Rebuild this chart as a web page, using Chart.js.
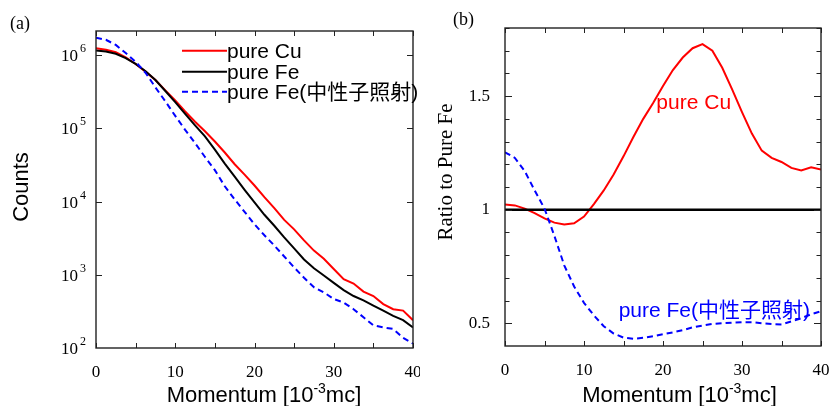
<!DOCTYPE html>
<html>
<head>
<meta charset="utf-8">
<script src="https://cdn.jsdelivr.net/npm/chart.js@4.4.0/dist/chart.umd.min.js"></script>
<style>
  html, body { margin: 0; padding: 0; background: #fff; }
  #wrap { position: relative; width: 833px; height: 406px; }
  .panel { position: absolute; top: 0; height: 406px; }
  #panelA { left: 0; width: 420px; }
  #panelB { left: 420px; width: 413px; }
</style>
</head>
<body>
<div id="wrap">
  <div class="panel" id="panelA"><canvas id="countsChart"></canvas></div>
  <div class="panel" id="panelB"><canvas id="ratioChart"></canvas></div>
</div>
<script>
// momentum grid [10^-3 mc]
const momentum = [0, 1.25, 2.5, 3.75, 5, 6.25, 7.5, 8.75, 10, 11.25, 12.5, 13.75, 15, 16.25, 17.5, 18.75,
  20, 21.25, 22.5, 23.75, 25, 26.25, 27.5, 28.75, 30, 31.25, 32.5, 33.75, 35, 36.25, 37.5, 38.75, 40];

// (a) counts
const cuCounts = [1.245e6, 1.189e6, 1.096e6, 9.33e5, 7.59e5, 5.96e5, 4.57e5, 3.31e5, 2.40e5, 1.70e5, 1.23e5,
  9.12e4, 6.61e4, 4.68e4, 3.24e4, 2.34e4, 1.66e4, 1.15e4, 8130, 5620, 4170, 2950, 2140, 1660, 1200,
  871, 759, 589, 513, 398, 339, 324, 240];
const feCounts = [1.161e6, 1.122e6, 1.047e6, 9.12e5, 7.59e5, 6.03e5, 4.57e5, 3.24e5, 2.29e5, 1.58e5, 1.10e5,
  7.76e4, 5.13e4, 3.31e4, 2.19e4, 1.45e4, 9770, 6610, 4680, 3240, 2290, 1620, 1230, 977, 776,
  617, 513, 447, 380, 324, 275, 240, 191];
const feIrrCounts = [1.738e6, 1.622e6, 1.380e6, 1.072e6, 8.13e5, 5.75e5, 3.63e5, 2.34e5, 1.48e5, 9.55e4, 6.31e4,
  4.07e4, 2.69e4, 1.62e4, 1.07e4, 7240, 4900, 3470, 2510, 1780, 1260, 912, 676, 575, 468,
  417, 339, 263, 204, 191, 182, 138, 115];

// (b) ratio to pure Fe
const cuRatio = [1.023, 1.019, 1.005, 0.985, 0.962, 0.943, 0.935, 0.940, 0.970, 1.025, 1.085, 1.155, 1.235,
  1.32, 1.40, 1.47, 1.545, 1.615, 1.67, 1.711, 1.729, 1.70, 1.625, 1.53, 1.43, 1.335, 1.26, 1.228,
  1.21, 1.184, 1.173, 1.187, 1.177];
const feIrrRatio = [1.253, 1.228, 1.17, 1.085, 1.005, 0.885, 0.755, 0.662, 0.59, 0.535, 0.487, 0.455, 0.437,
  0.432, 0.436, 0.443, 0.452, 0.46, 0.47, 0.482, 0.49, 0.497, 0.50, 0.503, 0.505, 0.505, 0.50, 0.497,
  0.495, 0.508, 0.522, 0.54, 0.553];
const feRefMomentum = [0, 40];
const feRefRatio = [1, 1];

// labelled ticks
const momentumTicks = [0, 10, 20, 30, 40];
const countTicks = [1e2, 1e3, 1e4, 1e5, 1e6];
const ratioTicks = [0.5, 1, 1.5];

const RED = '#ff0000', BLUE = '#0000ff', BLACK = '#000000';
const SANS = '"Liberation Sans", "Noto Sans CJK JP", sans-serif';
const SERIF = '"Liberation Serif", serif';

const pts = (xs, ys) => xs.map((x, i) => ({x: x, y: ys[i]}));
const hasVal = (list, v) => list.some(t => Math.abs(t - v) < 1e-6);

// box around the plot area with inward tick marks on all four sides
const boxTicks = {
  id: 'boxTicks',
  afterDatasetsDraw(chart, args, opts) {
    const {ctx, chartArea: a, scales} = chart;
    ctx.save();
    ctx.strokeStyle = '#222';
    ctx.lineWidth = 1;
    ctx.beginPath();
    scales.x.ticks.forEach(t => {
      const px = Math.round(scales.x.getPixelForValue(t.value)) + 0.5;
      const len = hasVal(opts.xMajor, t.value) ? opts.xMajorLen : opts.xMinorLen;
      ctx.moveTo(px, a.bottom); ctx.lineTo(px, a.bottom - len);
      ctx.moveTo(px, a.top); ctx.lineTo(px, a.top + len);
    });
    scales.y.ticks.forEach(t => {
      const py = Math.round(scales.y.getPixelForValue(t.value)) + 0.5;
      if (py < a.top || py > a.bottom) return;
      const len = hasVal(opts.yMajor, t.value) ? opts.yMajorLen : opts.yMinorLen;
      ctx.moveTo(a.left, py); ctx.lineTo(a.left + len, py);
      ctx.moveTo(a.right, py); ctx.lineTo(a.right - len, py);
    });
    ctx.stroke();
    ctx.lineWidth = 1.4;
    ctx.strokeRect(a.left, a.top, a.right - a.left, a.bottom - a.top);
    ctx.restore();
  }
};

// "Momentum [10^-3 mc]" with a raised exponent
function drawMomentumTitle(ctx, cx, baseline) {
  const parts = [['Momentum [10', 22, 0], ['-3', 14, -9], ['mc]', 22, 0]];
  let total = 0;
  parts.forEach(p => { ctx.font = p[1] + 'px ' + SANS; total += ctx.measureText(p[0]).width; });
  let x = cx - total / 2;
  ctx.textAlign = 'left';
  ctx.textBaseline = 'alphabetic';
  parts.forEach(p => {
    ctx.font = p[1] + 'px ' + SANS;
    ctx.fillText(p[0], x, baseline + p[2]);
    x += ctx.measureText(p[0]).width;
  });
}

function drawRotated(ctx, text, font, x, y) {
  ctx.save();
  ctx.translate(x, y);
  ctx.rotate(-Math.PI / 2);
  ctx.font = font;
  ctx.textAlign = 'center';
  ctx.textBaseline = 'middle';
  ctx.fillText(text, 0, 0);
  ctx.restore();
}

const countsText = {
  id: 'countsText',
  afterDraw(chart) {
    const {ctx, chartArea: a, scales} = chart;
    ctx.save();
    ctx.fillStyle = BLACK;

    // decade labels 10^n
    countTicks.forEach(v => {
      const py = scales.y.getPixelForValue(v);
      ctx.font = '17px ' + SERIF;
      ctx.textAlign = 'right';
      ctx.textBaseline = 'alphabetic';
      ctx.fillText('10', a.left - 18, py + 6);
      ctx.font = '12px ' + SERIF;
      ctx.textAlign = 'left';
      ctx.fillText(String(Math.round(Math.log10(v))), a.left - 16, py - 3);
    });

    ctx.font = '18px ' + SERIF;
    ctx.textAlign = 'left';
    ctx.fillText('(a)', 10, 29);

    drawRotated(ctx, 'Counts', '22px ' + SANS, 22, 187);
    drawMomentumTitle(ctx, 264, 402);

    // legend
    const rows = [50.7, 71.7, 91.7];
    chart.data.datasets.forEach((ds, i) => {
      ctx.save();
      ctx.strokeStyle = ds.borderColor;
      ctx.lineWidth = ds.borderWidth;
      ctx.setLineDash(ds.borderDash || []);
      ctx.beginPath();
      ctx.moveTo(182, rows[i]);
      ctx.lineTo(227, rows[i]);
      ctx.stroke();
      ctx.restore();
      ctx.fillStyle = BLACK;
      ctx.font = '21px ' + SANS;
      ctx.textAlign = 'left';
      ctx.textBaseline = 'alphabetic';
      ctx.fillText(ds.label, 227, rows[i] + 7.6);
    });
    ctx.restore();
  }
};

const ratioText = {
  id: 'ratioText',
  afterDraw(chart) {
    const {ctx, scales} = chart;
    ctx.save();
    ctx.fillStyle = BLACK;
    ctx.font = '18px ' + SERIF;
    ctx.textAlign = 'left';
    ctx.textBaseline = 'alphabetic';
    ctx.fillText('(b)', 33, 25);

    drawRotated(ctx, 'Ratio to Pure Fe', '21px ' + SERIF, 26, 172);
    drawMomentumTitle(ctx, 259.5, 402);

    ctx.font = '21px ' + SANS;
    ctx.textAlign = 'left';
    ctx.textBaseline = 'alphabetic';
    ctx.fillStyle = RED;
    ctx.fillText('pure Cu', scales.x.getPixelForValue(19.16), scales.y.getPixelForValue(1.444));
    ctx.fillStyle = BLUE;
    ctx.fillText('pure Fe(中性子照射)', scales.x.getPixelForValue(14.39), scales.y.getPixelForValue(0.5275));
    ctx.restore();
  }
};

function momentumAxis(height) {
  return {
    type: 'linear', min: 0, max: 40,
    grid: {display: false}, border: {display: false},
    ticks: {
      stepSize: 5, autoSkip: false, maxRotation: 0, padding: 6, color: BLACK,
      font: {size: 17, family: SERIF},
      callback: v => hasVal(momentumTicks, v) ? String(v) : ''
    },
    afterFit: s => { s.height = height; s.paddingLeft = 0; s.paddingRight = 0; }
  };
}

new Chart(document.getElementById('countsChart'), {
  type: 'line',
  data: {
    datasets: [
      {label: 'pure Cu', data: pts(momentum, cuCounts), borderColor: RED, borderWidth: 2, order: 3},
      {label: 'pure Fe', data: pts(momentum, feCounts), borderColor: BLACK, borderWidth: 2, order: 2},
      {label: 'pure Fe(中性子照射)', data: pts(momentum, feIrrCounts), borderColor: BLUE, borderWidth: 2,
        borderDash: [6, 4], order: 1}
    ]
  },
  options: {
    responsive: true,
    maintainAspectRatio: false,
    animation: false,
    layout: {padding: {top: 31, right: 7, left: 0, bottom: 0}},
    elements: {point: {radius: 0}, line: {tension: 0}},
    plugins: {
      legend: {display: false},
      tooltip: {enabled: false},
      boxTicks: {xMajor: momentumTicks, yMajor: countTicks, xMajorLen: 5, xMinorLen: 5, yMajorLen: 6, yMinorLen: 6}
    },
    scales: {
      x: momentumAxis(58),
      y: {
        type: 'logarithmic', min: 100, max: 2.14e6,
        grid: {display: false}, border: {display: false},
        ticks: {display: false},
        afterBuildTicks: s => { s.ticks = countTicks.map(v => ({value: v})); },
        afterFit: s => { s.width = 96; s.paddingTop = 0; s.paddingBottom = 0; }
      }
    }
  },
  plugins: [boxTicks, countsText]
});

new Chart(document.getElementById('ratioChart'), {
  type: 'line',
  data: {
    datasets: [
      {label: 'pure Cu', data: pts(momentum, cuRatio), borderColor: RED, borderWidth: 2, order: 3},
      {label: 'pure Fe', data: pts(feRefMomentum, feRefRatio), borderColor: BLACK, borderWidth: 2.4, order: 2},
      {label: 'pure Fe(中性子照射)', data: pts(momentum, feIrrRatio), borderColor: BLUE, borderWidth: 2,
        borderDash: [6, 4], order: 1}
    ]
  },
  options: {
    responsive: true,
    maintainAspectRatio: false,
    animation: false,
    layout: {padding: {top: 28, right: 12, left: 0, bottom: 0}},
    elements: {point: {radius: 0}, line: {tension: 0}},
    plugins: {
      legend: {display: false},
      tooltip: {enabled: false},
      boxTicks: {xMajor: momentumTicks, yMajor: ratioTicks, xMajorLen: 5, xMinorLen: 5, yMajorLen: 7, yMinorLen: 4.5}
    },
    scales: {
      x: momentumAxis(60),
      y: {
        type: 'linear', min: 0.4, max: 1.8,
        grid: {display: false}, border: {display: false},
        ticks: {
          stepSize: 0.1, autoSkip: false, padding: 7, color: BLACK,
          font: {size: 17, family: SERIF},
          callback: v => hasVal(ratioTicks, v) ? String(Math.round(v * 10) / 10) : ''
        },
        afterFit: s => { s.width = 85; s.paddingTop = 0; s.paddingBottom = 0; }
      }
    }
  },
  plugins: [boxTicks, ratioText]
});
</script>
</body>
</html>
